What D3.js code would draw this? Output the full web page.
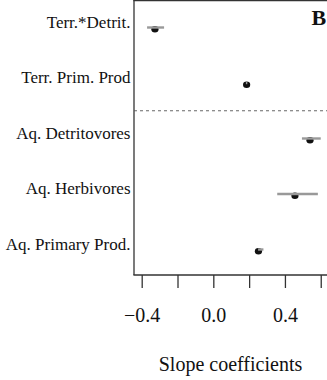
<!DOCTYPE html>
<html><head><meta charset="utf-8">
<script src="https://cdn.jsdelivr.net/npm/d3@7"></script>
<style>body{margin:0;background:#fff}svg{display:block}</style>
</head><body><svg id="c" width="327" height="380"></svg>
<script>
const categories = ["Terr.*Detrit.", "Terr. Prim. Prod", "Aq. Detritovores", "Aq. Herbivores", "Aq. Primary Prod."];
const estimates = [-0.326, 0.186, 0.54, 0.456, 0.252];
const ciLow = [-0.37, 0.182, 0.495, 0.357, 0.25];
const ciHigh = [-0.275, 0.19, 0.60, 0.584, 0.28];
const xTicks = [-0.4, -0.2, 0.0, 0.2, 0.4, 0.6];
const xTickLabels = ["\u22120.4", "", "0.0", "", "0.4", ""];

(function () {
const FF = '"Liberation Serif","Times New Roman",serif';
const svg = d3.select("#c").attr("font-family", FF);
const pLeft = 134, pRight = 327, pTop = 0, pBottom = 275;
const x = d3.scaleLinear().domain([-0.443, 0.635]).range([pLeft, pRight]);
const y = d3.scalePoint().domain(categories).range([27.5, 249.5]);

svg.append("line").attr("x1", pLeft).attr("x2", pLeft).attr("y1", pTop).attr("y2", pBottom).attr("stroke", "#333").attr("stroke-width", 1.3);
svg.append("line").attr("x1", pLeft - 0.6).attr("x2", pRight).attr("y1", pBottom).attr("y2", pBottom).attr("stroke", "#333").attr("stroke-width", 1.3);
svg.append("line").attr("x1", pLeft - 0.6).attr("x2", pRight).attr("y1", 0.5).attr("y2", 0.5).attr("stroke", "#333").attr("stroke-width", 1.3);

const xAxis = d3.axisBottom(x).tickValues(xTicks).tickSize(13).tickFormat((d, i) => xTickLabels[i]);
const gx = svg.append("g").attr("transform", `translate(0,${pBottom})`).call(xAxis).attr("font-family", FF);
gx.select(".domain").remove();
gx.selectAll(".tick line").attr("stroke", "#333").attr("stroke-width", 1.3);
gx.selectAll(".tick text").attr("font-size", 20).attr("fill", "#111").attr("dy", 0).attr("y", 46.5)
  .attr("font-family", FF);

const sepY = (y(categories[1]) + y(categories[2])) / 2;
svg.append("line").attr("x1", pLeft).attr("x2", pRight).attr("y1", sepY).attr("y2", sepY)
  .attr("stroke", "#555").attr("stroke-width", 0.9).attr("stroke-dasharray", "3,3");

svg.selectAll(".cat").data(categories).join("text").attr("class", "cat")
  .attr("x", 130.5).attr("y", d => y(d)).attr("text-anchor", "end")
  .attr("font-size", 17).attr("fill", "#111").attr("font-family", FF).text(d => d);

const idx = d3.range(categories.length);
svg.selectAll(".pt").data(idx).join("ellipse").attr("class", "pt")
  .attr("cx", i => x(estimates[i])).attr("cy", i => y(categories[i]) + 1.8)
  .attr("rx", 3.6).attr("ry", 3.2).attr("fill", "#111");
svg.selectAll(".ci").data(idx).join("line").attr("class", "ci")
  .attr("x1", i => x(ciLow[i])).attr("x2", i => x(ciHigh[i]))
  .attr("y1", i => y(categories[i])).attr("y2", i => y(categories[i]))
  .attr("stroke", "#999").attr("stroke-width", 2.4);

svg.append("text").attr("x", 311.5).attr("y", 25).attr("font-size", 22).attr("font-weight", "bold").attr("fill", "#111").attr("font-family", FF).text("B");

svg.append("text").attr("x", (pLeft + pRight) / 2).attr("y", 371).attr("text-anchor", "middle")
  .attr("font-size", 20).attr("fill", "#111").attr("font-family", FF).text("Slope coefficients");
})();
</script></body></html>
